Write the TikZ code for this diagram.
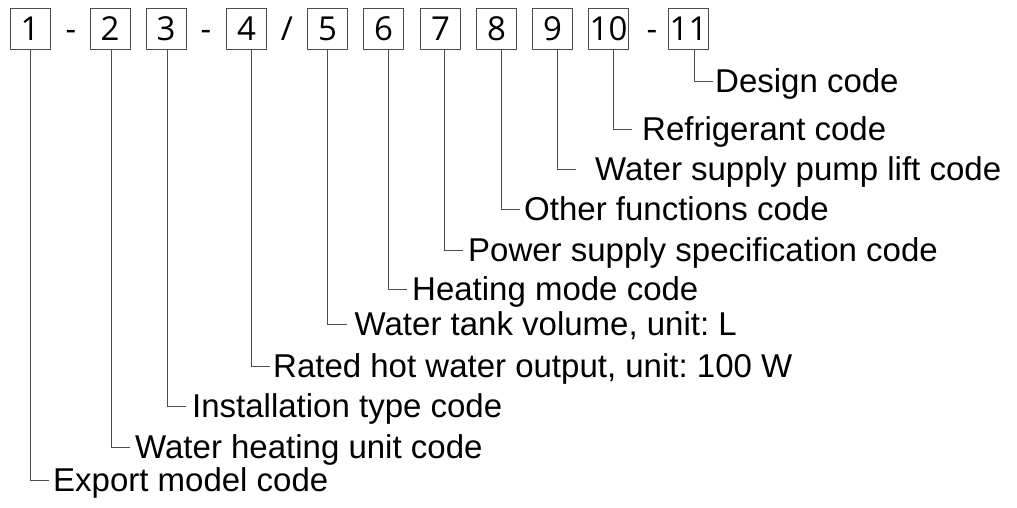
\documentclass[tikz,border=0pt]{standalone}
\usepackage{fontspec}
\setmainfont{Liberation Sans}
\newfontfamily\digitfont{Open Sans}
\usetikzlibrary{positioning, calc}
\frenchspacing

\begin{document}
\begin{tikzpicture}[x=1pt, y=-1pt,
  codebox/.style={draw=black!70, line width=1pt, minimum width=40pt,
        minimum height=41pt, inner sep=0pt, font=\digitfont\fontsize{33}{33}\selectfont},
  sepmark/.style={anchor=base, inner sep=0pt, font=\digitfont\fontsize{33}{33}\selectfont},
  codelbl/.style={anchor=west, inner ysep=0pt, text height=23.6pt, text depth=0pt,
        font=\fontsize{33}{36}\selectfont},
  lead/.style={draw=black!70, line width=1pt}]
  \useasboundingbox (0,0) rectangle (1017,507);
  % code boxes
  \node[codebox] (b1) at (30,28.5) {1};
  \node[sepmark] (s1) at (71,40) {-};
  \node[codebox] (b2) at (110,28.5) {2};
  \node[codebox] (b3) at (166,28.5) {3};
  \node[sepmark] (s2) at (206,40) {-};
  \node[codebox] (b4) at (246.5,28.5) {4};
  \node[sepmark] (s3) at (287,40) {/};
  \node[codebox] (b5) at (327.5,28.5) {5};
  \node[codebox] (b6) at (383.5,28.5) {6};
  \node[codebox] (b7) at (440.5,28.5) {7};
  \node[codebox] (b8) at (496.5,28.5) {8};
  \node[codebox] (b9) at (552.5,28.5) {9};
  \node[codebox] (b10) at (608.5,28.5) {10};
  \node[sepmark] (s4) at (652,40) {-};
  \node[codebox] (b11) at (688.5,28.5) {11};
  % meanings
  \node[codelbl, inner xsep=2pt] (l11) at (713,81) {Design code};
  \node[codelbl, inner xsep=10pt] (l10) at (632,129) {Refrigerant code};
  \node[codelbl, inner xsep=19pt] (l9) at (576,169) {Water supply pump lift code};
  \node[codelbl, inner xsep=4pt] (l8) at (520,209) {Other functions code};
  \node[codelbl, inner xsep=5pt] (l7) at (463,250) {Power supply specification code};
  \node[codelbl, inner xsep=5pt] (l6) at (407,289) {Heating mode code};
  \node[codelbl, inner xsep=8pt] (l5) at (346.5,324) {Water tank volume, unit: L};
  \node[codelbl, inner xsep=3pt] (l4) at (270,366) {Rated hot water output, unit: 100 W};
  \node[codelbl, inner xsep=6pt] (l3) at (186,406) {Installation type code};
  \node[codelbl, inner xsep=5pt] (l2) at (130,447) {Water heating unit code};
  \node[codelbl, inner xsep=4pt] (l1) at (49,480) {Export model code};
  % leaders
  \foreach \i/\dx in {1/0, 2/1, 3/1, 4/4.5, 5/0, 6/4.5, 7/3.5, 8/4.5, 9/4.5, 10/4.5, 11/5.5}
    \draw[lead] ($(b\i.south)+(\dx,0)$) |- (l\i.west);
\end{tikzpicture}
\end{document}
